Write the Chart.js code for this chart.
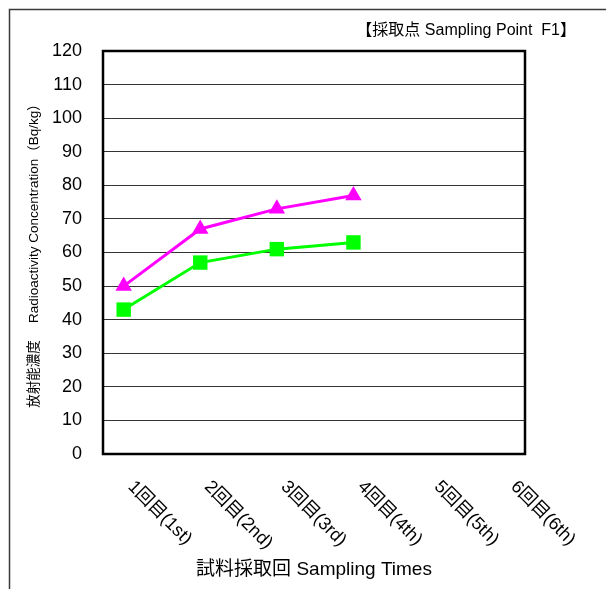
<!DOCTYPE html>
<html>
<head>
<meta charset="utf-8">
<script src="https://cdn.jsdelivr.net/npm/chart.js@4.4.1/dist/chart.umd.min.js"></script>
<style>
  html, body { margin: 0; padding: 0; background: #ffffff; }
  canvas { display: block; }
</style>
</head>
<body>
<canvas id="chart" width="606" height="589"></canvas>
<script>
// Sampling rounds shown along the horizontal axis
const categories = ['1回目(1st)', '2回目(2nd)', '3回目(3rd)', '4回目(4th)', '5回目(5th)', '6回目(6th)'];
// Measured concentrations (Bq/kg) per sampling round
const triangleSeries = [50, 67, 73, 77];
const squareSeries = [43, 57, 61, 63];
// Vertical axis range
const yMin = 0;
const yMax = 120;
const yStep = 10;

const chartTitle = '【採取点 Sampling Point  F1】';
const xAxisTitle = '試料採取回 Sampling Times';
const yAxisTitle = '放射能濃度　 Radioactivity Concentration（Bq/kg）';

const FONT = "'Liberation Sans', 'Noto Sans CJK JP', sans-serif";
Chart.defaults.font.family = FONT;
Chart.defaults.color = '#000000';

const toPoints = arr => arr.map((v, i) => ({ x: i + 1, y: v }));

// Page frame, plot border, chart title and slanted category labels
const decorations = {
  id: 'decorations',
  beforeDraw(chart) {
    const { ctx } = chart;
    ctx.save();
    ctx.fillStyle = '#ffffff';
    ctx.fillRect(0, 0, chart.width, chart.height);
    ctx.strokeStyle = '#3a3a3a';
    ctx.lineWidth = 1.5;
    ctx.beginPath();
    ctx.moveTo(9.5, chart.height);
    ctx.lineTo(9.5, 9.5);
    ctx.lineTo(chart.width, 9.5);
    ctx.stroke();
    ctx.restore();
  },
  beforeDatasetsDraw(chart) {
    const { ctx, chartArea: a } = chart;
    ctx.save();
    ctx.strokeStyle = '#000000';
    ctx.lineWidth = 2.5;
    ctx.strokeRect(a.left, a.top, a.right - a.left, a.bottom - a.top);
    ctx.restore();
  },
  afterDraw(chart) {
    const { ctx, chartArea: a } = chart;
    const xs = chart.scales.x;
    ctx.save();
    ctx.fillStyle = '#000000';
    ctx.font = '16px ' + FONT;
    ctx.textAlign = 'right';
    ctx.textBaseline = 'middle';
    ctx.fillText(chartTitle, 576, 31);

    ctx.font = '18px ' + FONT;
    ctx.textAlign = 'left';
    categories.forEach((label, i) => {
      const px = xs.getPixelForValue(i + 1);
      ctx.save();
      ctx.translate(px + 7, a.bottom + 30);
      ctx.rotate(Math.PI / 4);
      ctx.fillText(label, 0, 0);
      ctx.restore();
    });
    ctx.restore();
  }
};

new Chart(document.getElementById('chart'), {
  type: 'line',
  data: {
    datasets: [
      {
        label: 'triangle',
        data: toPoints(triangleSeries),
        borderColor: '#ff00ff',
        backgroundColor: '#ff00ff',
        borderWidth: 3,
        pointStyle: 'triangle',
        pointRadius: 9.5,
        pointHoverRadius: 9.5,
        pointBorderWidth: 0,
        tension: 0
      },
      {
        label: 'square',
        data: toPoints(squareSeries),
        borderColor: '#00ff00',
        backgroundColor: '#00ff00',
        borderWidth: 3,
        pointStyle: 'rect',
        pointRadius: 10.2,
        pointHoverRadius: 10.2,
        pointBorderWidth: 0,
        tension: 0
      }
    ]
  },
  options: {
    responsive: false,
    animation: false,
    events: [],
    layout: { padding: { left: 0, top: 51, right: 81, bottom: 0 } },
    plugins: {
      legend: { display: false },
      tooltip: { enabled: false },
      title: { display: false }
    },
    scales: {
      x: {
        type: 'linear',
        min: 0.73,
        max: 6.24,
        grid: { display: false },
        border: { display: false },
        ticks: { display: false },
        title: {
          display: true,
          text: xAxisTitle,
          align: 'center',
          font: { size: 19 },
          color: '#000000',
          padding: { top: 0, bottom: 8 }
        },
        afterFit(scale) { scale.height = 135; }
      },
      y: {
        min: yMin,
        max: yMax,
        grid: { color: '#333333', lineWidth: 1, drawTicks: false },
        border: { display: false },
        ticks: {
          stepSize: yStep,
          padding: 21,
          font: { size: 18 },
          color: '#000000'
        },
        title: {
          display: true,
          text: yAxisTitle,
          font: { size: 13.5 },
          color: '#000000',
          padding: { top: 26, bottom: 0 }
        },
        afterFit(scale) { scale.width = 103; }
      }
    }
  },
  plugins: [decorations]
});
</script>
</body>
</html>
